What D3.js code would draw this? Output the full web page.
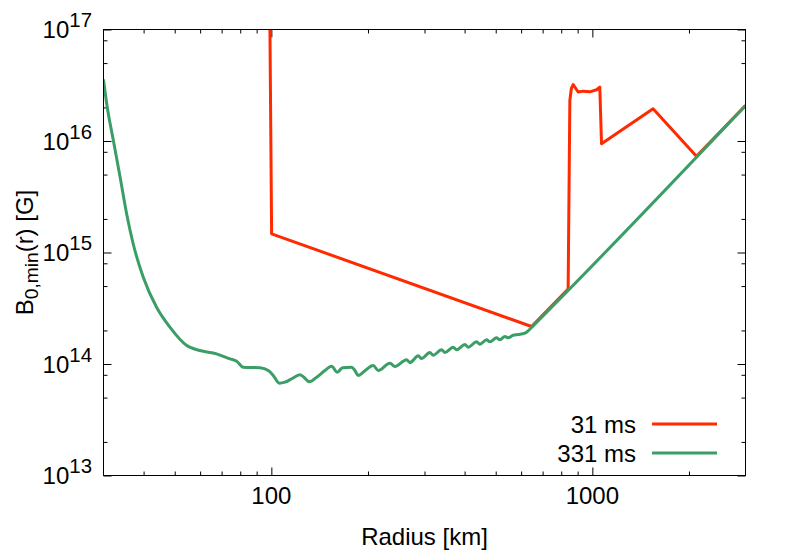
<!DOCTYPE html>
<html>
<head>
<meta charset="utf-8">
<script src="https://cdn.jsdelivr.net/npm/d3@7"></script>
<style>
  html, body { margin: 0; padding: 0; background: #fff; }
  svg { display: block; font-family: "Liberation Sans", Arial, Helvetica, sans-serif; }
</style>
</head>
<body>
<svg id="chart" width="789" height="552"></svg>
<script>
// ---------------- data ----------------
const seriesNames = ["31 ms", "331 ms"];
const seriesColors = ["#ff2a00", "#3a9e66"];

// 331 ms (green)
const greenR = [30.0, 30.7, 32.2, 33.8, 35.4, 37.1, 39.9, 43.9, 48.3, 54.5, 59.9, 67.5, 74.3, 78.0, 81.7,
  92.2, 97.8, 101.4, 105.8, 110.3, 115.7, 122.8, 126.3, 131.2, 138.4, 146.9, 154.1, 160.4, 166.7, 177.9,
  182.1, 186.5, 193.3, 207.7, 215.3, 234.1, 242.6, 263.9, 270.2, 286.8, 293.8, 311.8, 319.3, 339.2, 347.3,
  368.6, 377.7, 400.9, 410.5, 435.9, 446.3, 468.3, 479.5, 503.0, 515.1, 534.0, 546.9, 566.7, 587.4, 616.3,
  631.0, 654.0, 3000];
const greenB = [3.56e16, 2.16e16, 1.01e16, 4.74e15, 2.24e15, 1.204e15, 6.00e14, 3.23e14, 2.14e14, 1.465e14,
  1.322e14, 1.234e14, 1.113e14, 1.06e14, 9.36e13, 9.25e13, 8.74e13, 7.89e13, 6.73e13, 6.87e13, 7.37e13,
  8.00e13, 7.61e13, 6.92e13, 7.61e13, 8.74e13, 9.56e13, 8.44e13, 9.25e13, 9.36e13, 8.74e13, 7.89e13,
  8.44e13, 9.69e13, 8.74e13, 1.017e14, 9.50e13, 1.09e14, 1.031e14, 1.184e14, 1.12e14, 1.268e14, 1.199e14,
  1.341e14, 1.268e14, 1.415e14, 1.341e14, 1.496e14, 1.415e14, 1.582e14, 1.505e14, 1.648e14, 1.582e14,
  1.718e14, 1.648e14, 1.765e14, 1.718e14, 1.813e14, 1.839e14, 1.889e14, 1.985e14, 2.20e14, 2.08e16];

// 31 ms (red)
const redR = [99.0, 100.2, 646.6, 840.6, 851, 860.3, 871.4, 903.2, 936.1, 982.2, 1031, 1055, 1068, 1546, 2110, 3000];
const redB = [1.0e17, 1.47e15, 2.17e14, 4.7e14, 2.31e16, 2.96e16, 3.21e16, 2.75e16, 2.80e16, 2.76e16,
  2.88e16, 3.04e16, 9.44e15, 1.945e16, 7.3e15, 2.08e16];

// axes
const xDomain = [30, 3000];
const yDomain = [1e13, 1e17];
const xMajorTicks = [100, 1000];
const xMajorLabels = ["100", "1000"];
const xMinorTicks = [40, 50, 60, 70, 80, 90, 200, 300, 400, 500, 600, 700, 800, 900, 2000];
const yExponents = [13, 14, 15, 16, 17];
const yMinorMultipliers = [2, 5, 8];
const xTitle = "Radius [km]";

// ---------------- drawing ----------------
const svg = d3.select("#chart");
const L = 103.5, R = 745.5, T = 29.5, B = 475.5;
const x = d3.scaleLog().domain(xDomain).range([L, R]);
const y = d3.scaleLog().domain(yDomain).range([B, T]);

const yMajor = yExponents.map(e => Math.pow(10, e));
const yMinor = [];
yExponents.slice(0, -1).forEach(e => yMinorMultipliers.forEach(m => yMinor.push(m * Math.pow(10, e))));

const fontSize = 24;
const majorLen = 8, minorLen = 4;

function styleAxis(g) {
  g.select(".domain").remove();
  g.selectAll(".tick line").attr("stroke", "#000").attr("stroke-width", 1);
  g.selectAll(".tick text").remove();
}
[[d3.axisBottom, B, xMajorTicks, -majorLen], [d3.axisBottom, B, xMinorTicks, -minorLen],
 [d3.axisTop, T, xMajorTicks, -majorLen], [d3.axisTop, T, xMinorTicks, -minorLen]].forEach(([fn, pos, vals, len]) => {
  svg.append("g").attr("transform", `translate(0,${pos})`)
    .call(fn(x).tickValues(vals).tickSize(len).tickFormat(""))
    .call(styleAxis);
});
[[d3.axisLeft, L, yMajor, -majorLen], [d3.axisLeft, L, yMinor, -minorLen],
 [d3.axisRight, R, yMajor, -majorLen], [d3.axisRight, R, yMinor, -minorLen]].forEach(([fn, pos, vals, len]) => {
  svg.append("g").attr("transform", `translate(${pos},0)`)
    .call(fn(y).tickValues(vals).tickSize(len).tickFormat(""))
    .call(styleAxis);
});

svg.append("clipPath").attr("id", "clip").append("rect")
  .attr("x", L).attr("y", T).attr("width", R - L).attr("height", B - T);

const lineLinear = d3.line().x(d => x(d[0])).y(d => y(d[1]));
const lineSmooth = d3.line().x(d => x(d[0])).y(d => y(d[1])).curve(d3.curveMonotoneX);

const redData = redR.map((r, i) => [r, redB[i]]);
const greenData = greenR.map((r, i) => [r, greenB[i]]);

const plot = svg.append("g").attr("clip-path", "url(#clip)");
plot.append("path").datum(redData).attr("d", lineLinear)
  .attr("fill", "none").attr("stroke", seriesColors[0]).attr("stroke-width", 3)
  .attr("stroke-linejoin", "round");
plot.append("path").datum(greenData).attr("d", lineSmooth)
  .attr("fill", "none").attr("stroke", seriesColors[1]).attr("stroke-width", 3)
  .attr("stroke-linejoin", "round");

svg.append("rect").attr("x", L).attr("y", T).attr("width", R - L).attr("height", B - T)
  .attr("fill", "none").attr("stroke", "#000").attr("stroke-width", 1);

// x tick labels
xMajorTicks.forEach((v, i) => {
  svg.append("text").attr("x", x(v)).attr("y", 504)
    .attr("text-anchor", "middle").attr("font-size", fontSize).attr("fill", "#000")
    .text(xMajorLabels[i]);
});
// y tick labels
yMajor.forEach((v, i) => {
  const t = svg.append("text").attr("x", 92).attr("y", y(v) + 8.5)
    .attr("text-anchor", "end").attr("font-size", fontSize).attr("fill", "#000");
  t.append("tspan").text("10");
  t.append("tspan").attr("dy", -11).attr("font-size", fontSize * 0.85).text(String(yExponents[i]));
});

svg.append("text").attr("x", (L + R) / 2).attr("y", 545).attr("text-anchor", "middle")
  .attr("font-size", fontSize).attr("fill", "#000").text(xTitle);

const yt = svg.append("text").attr("transform", `translate(33,${(T + B) / 2}) rotate(-90)`)
  .attr("text-anchor", "middle").attr("font-size", fontSize).attr("fill", "#000");
yt.append("tspan").text("B");
yt.append("tspan").attr("dy", 5).attr("font-size", fontSize * 0.8).text("0,min");
yt.append("tspan").attr("dy", -5).text("(r) [G]");

seriesNames.forEach((name, i) => {
  const ly = 424 + i * 29;
  svg.append("text").attr("x", 636).attr("y", ly + 8.5).attr("text-anchor", "end")
    .attr("font-size", fontSize).attr("fill", "#000").text(name);
  svg.append("line").attr("x1", 652).attr("x2", 717).attr("y1", ly).attr("y2", ly)
    .attr("stroke", seriesColors[i]).attr("stroke-width", 3);
});
</script>
</body>
</html>
